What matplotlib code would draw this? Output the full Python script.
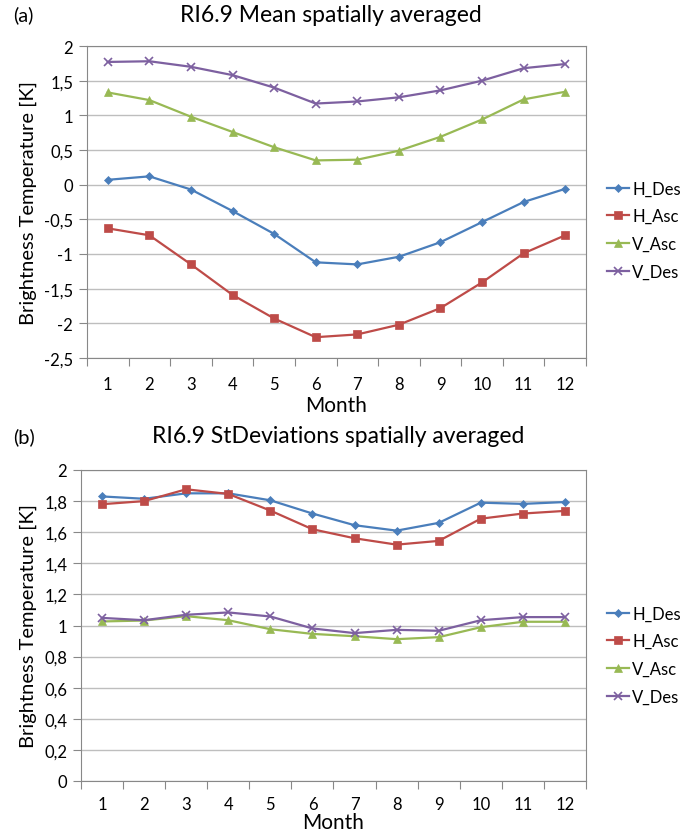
import matplotlib
matplotlib.use("Agg")
import matplotlib.pyplot as plt
from matplotlib.ticker import FuncFormatter, FixedLocator

plt.rcParams['font.family'] = ['Lato', 'DejaVu Sans']

months = list(range(1, 13))

# (a) mean values
mean_h_des = [0.07, 0.12, -0.07, -0.38, -0.71, -1.12, -1.15, -1.04, -0.83, -0.54, -0.25, -0.06]
mean_h_asc = [-0.63, -0.73, -1.15, -1.59, -1.93, -2.20, -2.16, -2.02, -1.78, -1.41, -0.99, -0.73]
mean_v_asc = [1.33, 1.22, 0.98, 0.76, 0.54, 0.35, 0.36, 0.49, 0.69, 0.94, 1.23, 1.34]
mean_v_des = [1.77, 1.78, 1.70, 1.58, 1.40, 1.17, 1.20, 1.26, 1.36, 1.50, 1.68, 1.74]

# (b) standard deviations
std_h_des = [1.83, 1.815, 1.85, 1.85, 1.805, 1.72, 1.645, 1.61, 1.66, 1.79, 1.782, 1.794]
std_h_asc = [1.78, 1.80, 1.876, 1.846, 1.739, 1.619, 1.561, 1.52, 1.544, 1.687, 1.72, 1.737]
std_v_asc = [1.026, 1.032, 1.06, 1.034, 0.976, 0.946, 0.931, 0.912, 0.925, 0.989, 1.024, 1.024]
std_v_des = [1.049, 1.034, 1.069, 1.084, 1.058, 0.981, 0.951, 0.972, 0.966, 1.034, 1.054, 1.054]

series_names = ["H_Des", "H_Asc", "V_Asc", "V_Des"]
colors = ["#4A7EBB", "#BE4B48", "#98B954", "#7D60A0"]
markers = ["D", "s", "^", "x"]
msizes = [4, 6, 6, 6]

W, H = 684, 837
fig = plt.figure(figsize=(W / 100, H / 100), dpi=100)


def fmt(v, pos):
    s = f"{v:g}".replace('.', ',')
    return "0" if s == "-0" else s


def draw_panel(rect, data, yticks, letter, title, title_x, title_y, legend_y, xpad, lpad):
    ax = fig.add_axes(rect)
    for vals, name, c, m, ms in zip(data, series_names, colors, markers, msizes):
        ax.plot(months, vals, color=c, marker=m, markersize=ms, lw=1.6,
                markeredgewidth=1.2 if m == "x" else 0.5, label=name)
    ax.set_xlim(0.5, 12.5)
    ax.set_ylim(yticks[0], yticks[-1])
    ax.yaxis.set_major_locator(FixedLocator(yticks))
    ax.yaxis.set_major_formatter(FuncFormatter(fmt))
    ax.grid(axis='y', color='#BEBEBE', lw=1)
    ax.set_axisbelow(True)
    # category axis: tick marks between months, labels at the centres
    ax.set_xticks([x + 0.5 for x in range(0, 13)])
    ax.set_xticklabels([])
    ax.set_xticks(months, minor=True)
    ax.set_xticklabels([str(m) for m in months], minor=True, fontsize=12)
    ax.tick_params(axis='x', which='minor', length=0, pad=xpad)
    ax.tick_params(axis='x', which='major', length=6, color='#888888', direction='out')
    ax.tick_params(axis='y', length=6, color='#888888', labelsize=12, pad=4)
    for sp in ax.spines.values():
        sp.set_color('#888888')
    ax.set_xlabel("Month", fontsize=15, labelpad=lpad)
    ax.set_ylabel("Brightness Temperature [K]", fontsize=14.5, labelpad=5)
    fig.text(13 / W, 1 - title_y / H, letter, fontsize=14.5, va='center', ha='left')
    fig.text(title_x / W, 1 - title_y / H, title, fontsize=16.5, va='center', ha='center')
    fig.legend(*ax.get_legend_handles_labels(), loc='center left',
               bbox_to_anchor=(592 / W, 1 - legend_y / H), frameon=False,
               fontsize=12, handlelength=1.3, handletextpad=0.2, labelspacing=0.7)
    return ax


draw_panel([87 / W, 1 - 359 / H, (586 - 87) / W, (359 - 47) / H],
           [mean_h_des, mean_h_asc, mean_v_asc, mean_v_des],
           [-2.5, -2, -1.5, -1, -0.5, 0, 0.5, 1, 1.5, 2],
           "(a)", "RI6.9 Mean spatially averaged", 331, 15, 231, 13, 2)

draw_panel([81 / W, 1 - 782 / H, (586 - 81) / W, (782 - 471) / H],
           [std_h_des, std_h_asc, std_v_asc, std_v_des],
           [0, 0.2, 0.4, 0.6, 0.8, 1, 1.2, 1.4, 1.6, 1.8, 2],
           "(b)", "RI6.9 StDeviations spatially averaged", 338, 437, 656, 11, 0)

fig.savefig("out.png", dpi=100)
